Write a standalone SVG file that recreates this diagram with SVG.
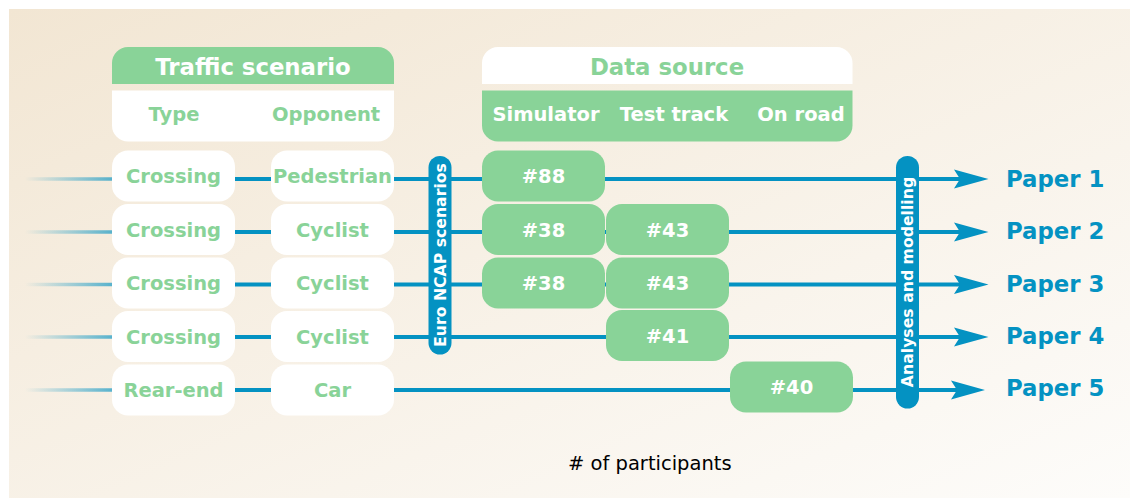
<svg xmlns="http://www.w3.org/2000/svg" width="1135" height="499" viewBox="0 0 1135 499">
<style>
text{font-family:"DejaVu Sans","Liberation Sans",sans-serif;font-weight:bold}
.g{fill:#89d398}
.w{fill:#ffffff}
.tg{fill:#89d398;font-size:19.5px;text-anchor:middle}
.tw{fill:#ffffff;font-size:19.5px;text-anchor:middle}
.hg{fill:#89d398;font-size:22.8px;text-anchor:middle}
.hw{fill:#ffffff;font-size:22.8px;text-anchor:middle}
.bar{fill:#0492c2}
.bt{fill:#ffffff;font-size:15.7px;text-anchor:middle}
.paper{fill:#0492c2;font-size:22.8px}
.ln{stroke:#0492c2;stroke-width:4;fill:none}
.fade{stroke:url(#fadeGrad);stroke-width:3.5;fill:none}
.ah{fill:#0492c2}
</style>
<defs>
<linearGradient id="bgGrad" x1="0" y1="0" x2="1" y2="1">
<stop offset="0" stop-color="#f2e6d3"/>
<stop offset="1" stop-color="#fdfcfa"/>
</linearGradient>
<linearGradient id="fadeGrad" gradientUnits="userSpaceOnUse" x1="25" y1="0" x2="112" y2="0">
<stop offset="0" stop-color="#0492c2" stop-opacity="0"/>
<stop offset="1" stop-color="#0492c2" stop-opacity="0.65"/>
</linearGradient>
</defs>
<rect x="0" y="0" width="1135" height="499" fill="#ffffff"/>
<rect x="9" y="9" width="1121" height="489" fill="url(#bgGrad)"/>

<g id="connectors">
<line class="fade" x1="25" y1="179" x2="112" y2="179"/>
<line class="fade" x1="25" y1="232" x2="112" y2="232"/>
<line class="fade" x1="25" y1="284.5" x2="112" y2="284.5"/>
<line class="fade" x1="25" y1="337" x2="112" y2="337"/>
<line class="fade" x1="25" y1="390" x2="112" y2="390"/>
<line class="ln" x1="112" y1="179" x2="962" y2="179"/>
<line class="ln" x1="112" y1="232" x2="962" y2="232"/>
<line class="ln" x1="112" y1="284.5" x2="962" y2="284.5"/>
<line class="ln" x1="112" y1="337" x2="962" y2="337"/>
<line class="ln" x1="112" y1="390" x2="958" y2="390"/>
<polygon class="ah" points="988.5,179 954,169.5 960,179 954,188.5"/>
<polygon class="ah" points="988.5,232 954,222.5 960,232 954,241.5"/>
<polygon class="ah" points="988.5,284.5 954,275 960,284.5 954,294"/>
<polygon class="ah" points="988.5,337 954,327.5 960,337 954,346.5"/>
<polygon class="ah" points="985,390 951,380.5 957,390 951,399.5"/>
</g>

<g id="traffic-scenario-header">
<path class="g" d="M112,84 V63 A16,16 0 0 1 128,47 H378 A16,16 0 0 1 394,63 V84 Z"/>
<path class="w" d="M112,90.5 H394 V125.5 A16,16 0 0 1 378,141.5 H128 A16,16 0 0 1 112,125.5 Z"/>
<text class="hw" x="253" y="75">Traffic scenario</text>
<text class="tg" x="174" y="121">Type</text>
<text class="tg" x="326" y="121">Opponent</text>
</g>

<g id="data-source-header">
<path class="w" d="M482,84 V63 A16,16 0 0 1 498,47 H836.5 A16,16 0 0 1 852.5,63 V84 Z"/>
<path class="g" d="M482,90.5 H852.5 V125.5 A16,16 0 0 1 836.5,141.5 H498 A16,16 0 0 1 482,125.5 Z"/>
<text class="hg" x="667" y="75">Data source</text>
<text class="tw" x="546" y="121">Simulator</text>
<text class="tw" x="674" y="121">Test track</text>
<text class="tw" x="801" y="121">On road</text>
</g>

<g id="type-1"><rect class="w" x="112" y="150.5" width="123" height="51" rx="16"/><text class="tg" x="173.5" y="183">Crossing</text></g>
<g id="type-2"><rect class="w" x="112" y="204" width="123" height="51" rx="16"/><text class="tg" x="173.5" y="236.5">Crossing</text></g>
<g id="type-3"><rect class="w" x="112" y="257.5" width="123" height="51" rx="16"/><text class="tg" x="173.5" y="290">Crossing</text></g>
<g id="type-4"><rect class="w" x="112" y="311" width="123" height="51" rx="16"/><text class="tg" x="173.5" y="343.5">Crossing</text></g>
<g id="type-5"><rect class="w" x="112" y="364.5" width="123" height="51" rx="16"/><text class="tg" x="173.5" y="397">Rear-end</text></g>

<g id="opponent-1"><rect class="w" x="271" y="150.5" width="123" height="51" rx="16"/><text class="tg" x="332.5" y="183">Pedestrian</text></g>
<g id="opponent-2"><rect class="w" x="271" y="204" width="123" height="51" rx="16"/><text class="tg" x="332.5" y="236.5">Cyclist</text></g>
<g id="opponent-3"><rect class="w" x="271" y="257.5" width="123" height="51" rx="16"/><text class="tg" x="332.5" y="290">Cyclist</text></g>
<g id="opponent-4"><rect class="w" x="271" y="311" width="123" height="51" rx="16"/><text class="tg" x="332.5" y="343.5">Cyclist</text></g>
<g id="opponent-5"><rect class="w" x="271" y="364.5" width="123" height="51" rx="16"/><text class="tg" x="332.5" y="397">Car</text></g>

<g id="euro-ncap">
<rect class="bar" x="428.5" y="156" width="23" height="198.5" rx="11.5"/>
<text class="bt" transform="translate(445.7,255) rotate(-90)" x="0" y="0">Euro NCAP scenarios</text>
</g>

<g id="sim-1"><rect class="g" x="482" y="150.5" width="123" height="51" rx="16"/><text class="tw" x="543.5" y="183">#88</text></g>
<g id="sim-2"><rect class="g" x="482" y="204" width="123" height="51" rx="16"/><text class="tw" x="543.5" y="236.5">#38</text></g>
<g id="track-2"><rect class="g" x="606" y="204" width="123" height="51" rx="16"/><text class="tw" x="667.5" y="236.5">#43</text></g>
<g id="sim-3"><rect class="g" x="482" y="257.5" width="123" height="51" rx="16"/><text class="tw" x="543.5" y="290">#38</text></g>
<g id="track-3"><rect class="g" x="606" y="257.5" width="123" height="51" rx="16"/><text class="tw" x="667.5" y="290">#43</text></g>
<g id="track-4"><rect class="g" x="606" y="310" width="123" height="51" rx="16"/><text class="tw" x="667.5" y="342.5">#41</text></g>
<g id="road-5"><rect class="g" x="730" y="361.5" width="123" height="51" rx="16"/><text class="tw" x="791.5" y="394">#40</text></g>

<g id="analyses">
<rect class="bar" x="896" y="156" width="23" height="252.5" rx="11.5"/>
<text class="bt" transform="translate(913.2,282) rotate(-90)" x="0" y="0">Analyses and modelling</text>
</g>

<g id="paper-1"><text class="paper" x="1006" y="186.7">Paper 1</text></g>
<g id="paper-2"><text class="paper" x="1006" y="239.3">Paper 2</text></g>
<g id="paper-3"><text class="paper" x="1006" y="291.7">Paper 3</text></g>
<g id="paper-4"><text class="paper" x="1006" y="344">Paper 4</text></g>
<g id="paper-5"><text class="paper" x="1006" y="396">Paper 5</text></g>

<g id="caption"><text x="568" y="469.5" style="font-weight:normal;font-size:19.5px;fill:#000000"># of participants</text></g>
</svg>
